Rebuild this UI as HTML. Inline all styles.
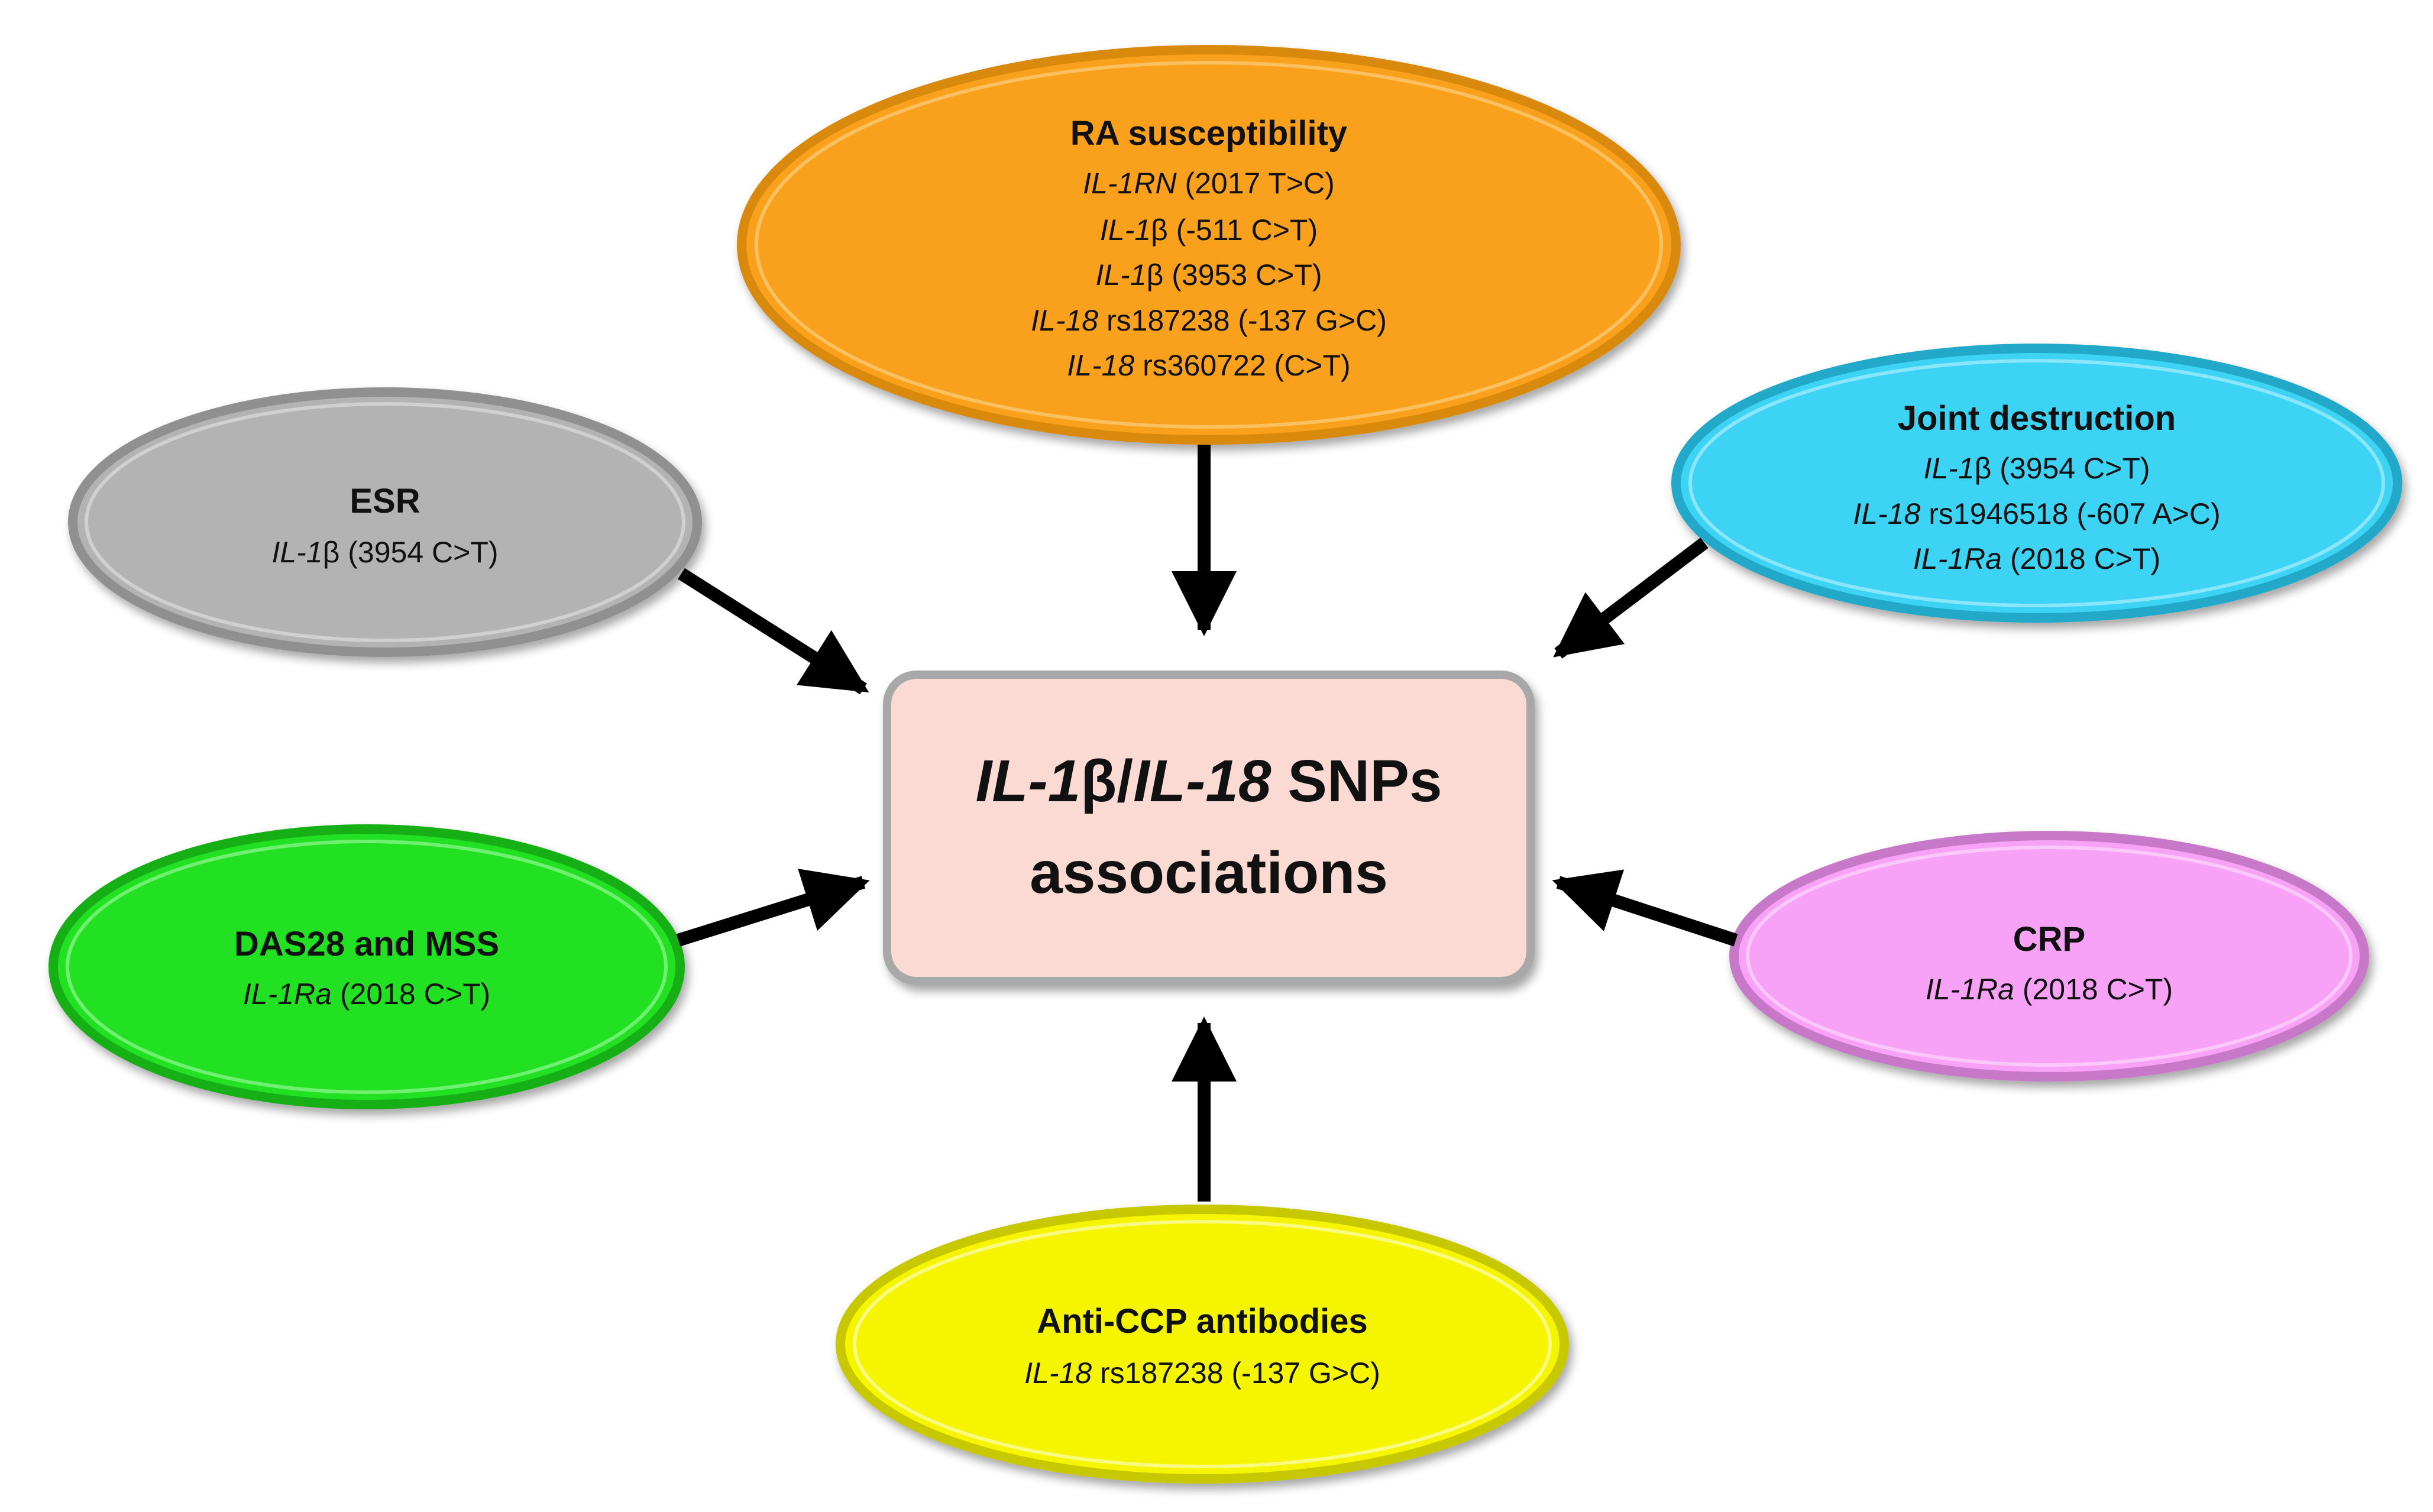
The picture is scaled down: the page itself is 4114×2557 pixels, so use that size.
<!DOCTYPE html>
<html><head><meta charset="utf-8"><style>html,body{margin:0;padding:0;background:#fff}svg{display:block}</style></head>
<body>
<svg width="4114" height="2557" viewBox="0 0 4114 2557" xmlns="http://www.w3.org/2000/svg" font-family="Liberation Sans, sans-serif">
<defs>
<marker id="ah" markerWidth="5" markerHeight="5" refX="4.5" refY="2.5" orient="auto" markerUnits="strokeWidth">
<path d="M0,0 L5,2.5 L0,5 Z" fill="#000"/></marker>
<filter id="sh" x="-10%" y="-10%" width="120%" height="130%"><feDropShadow dx="6" dy="10" stdDeviation="8" flood-color="#000" flood-opacity="0.35"/></filter>
</defs>
<g filter="url(#sh)">
<ellipse cx="2044" cy="414" rx="790" ry="330" fill="#F9A11B" stroke="#D98A10" stroke-width="16"/>
<ellipse cx="2044" cy="414" rx="765" ry="308" fill="none" stroke="#FBC060" stroke-width="6"/>
<ellipse cx="651" cy="883" rx="528" ry="220" fill="#B3B3B3" stroke="#909090" stroke-width="16"/>
<ellipse cx="651" cy="883" rx="505" ry="200" fill="none" stroke="#D0D0D0" stroke-width="6"/>
<ellipse cx="3444" cy="817" rx="610" ry="228" fill="#3DD3F5" stroke="#20A8C8" stroke-width="16"/>
<ellipse cx="3444" cy="817" rx="586" ry="207" fill="none" stroke="#8AE6FA" stroke-width="6"/>
<ellipse cx="620" cy="1635" rx="530" ry="233" fill="#22E022" stroke="#18B018" stroke-width="16"/>
<ellipse cx="620" cy="1635" rx="506" ry="212" fill="none" stroke="#70F070" stroke-width="6"/>
<ellipse cx="3465" cy="1617" rx="533" ry="204" fill="#F7A2F7" stroke="#C878C8" stroke-width="16"/>
<ellipse cx="3465" cy="1617" rx="510" ry="184" fill="none" stroke="#FAC8FA" stroke-width="6"/>
<ellipse cx="2033" cy="2273" rx="612" ry="228" fill="#F5F500" stroke="#C8C800" stroke-width="16"/>
<ellipse cx="2033" cy="2273" rx="588" ry="207" fill="none" stroke="#FAFA80" stroke-width="6"/>
<rect x="1500" y="1141" width="1088" height="518" rx="50" fill="#FADAD3" stroke="#A8A8A8" stroke-width="14"/>
</g>
<g stroke="#000" stroke-width="22" marker-end="url(#ah)">
<line x1="2036" y1="752" x2="2036" y2="1065"/>
<line x1="2036" y1="2032" x2="2036" y2="1730"/>
<line x1="1152" y1="970" x2="1460" y2="1165"/>
<line x1="2882" y1="918" x2="2635" y2="1105"/>
<line x1="1147" y1="1590" x2="1460" y2="1492"/>
<line x1="2935" y1="1590" x2="2635" y2="1492"/>
</g>
<g text-anchor="middle" fill="#111" font-size="50">
<text x="2044" y="245" font-weight="bold" font-size="58">RA susceptibility</text>
<text x="2044" y="327"><tspan font-style="italic">IL-1RN</tspan> (2017 T&gt;C)</text>
<text x="2044" y="406"><tspan font-style="italic">IL-1</tspan>β (-511 C&gt;T)</text>
<text x="2044" y="482"><tspan font-style="italic">IL-1</tspan>β (3953 C&gt;T)</text>
<text x="2044" y="559"><tspan font-style="italic">IL-18</tspan> rs187238 (-137 G&gt;C)</text>
<text x="2044" y="635"><tspan font-style="italic">IL-18</tspan> rs360722 (C&gt;T)</text>
<text x="651" y="867" font-weight="bold" font-size="58">ESR</text>
<text x="651" y="951"><tspan font-style="italic">IL-1</tspan>β (3954 C&gt;T)</text>
<text x="3444" y="727" font-weight="bold" font-size="58">Joint destruction</text>
<text x="3444" y="809"><tspan font-style="italic">IL-1</tspan>β (3954 C&gt;T)</text>
<text x="3444" y="886"><tspan font-style="italic">IL-18</tspan> rs1946518 (-607 A&gt;C)</text>
<text x="3444" y="962"><tspan font-style="italic">IL-1Ra</tspan> (2018 C&gt;T)</text>
<text x="620" y="1616" font-weight="bold" font-size="58">DAS28 and MSS</text>
<text x="620" y="1698"><tspan font-style="italic">IL-1Ra</tspan> (2018 C&gt;T)</text>
<text x="3465" y="1608" font-weight="bold" font-size="58">CRP</text>
<text x="3465" y="1690"><tspan font-style="italic">IL-1Ra</tspan> (2018 C&gt;T)</text>
<text x="2033" y="2254" font-weight="bold" font-size="58">Anti-CCP antibodies</text>
<text x="2033" y="2339"><tspan font-style="italic">IL-18</tspan> rs187238 (-137 G&gt;C)</text>
<text x="2044" y="1355" font-weight="bold" font-size="100"><tspan font-style="italic">IL-1</tspan>β/<tspan font-style="italic">IL-18</tspan> SNPs</text>
<text x="2044" y="1510" font-weight="bold" font-size="100">associations</text>
</g>
</svg>
</body></html>
